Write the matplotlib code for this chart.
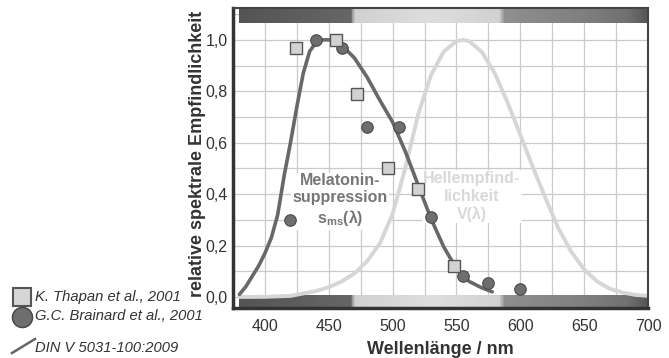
import numpy as np
import matplotlib
matplotlib.use("Agg")
import matplotlib.pyplot as plt
from matplotlib.colors import LinearSegmentedColormap
from matplotlib.lines import Line2D

plt.rcParams['font.family'] = ['Liberation Sans', 'DejaVu Sans']
plt.rcParams['mathtext.fontset'] = 'custom'
plt.rcParams['mathtext.bf'] = 'Liberation Sans:bold'
plt.rcParams['mathtext.rm'] = 'Liberation Sans'

# melatonin suppression s_ms (DIN V 5031-100)
mel_nm = [380, 385, 390, 395, 400, 405, 410, 415, 420, 425, 430, 435, 440,
          445, 450, 455, 460, 470, 480, 490, 500, 510, 520, 530, 540, 550,
          560, 570, 578]
mel_val = [0.01, 0.04, 0.08, 0.12, 0.17, 0.23, 0.32, 0.47, 0.60, 0.74, 0.87,
           0.955, 0.99, 1.0, 1.0, 0.995, 0.98, 0.93, 0.855, 0.765, 0.68,
           0.565, 0.435, 0.305, 0.195, 0.11, 0.06, 0.035, 0.02]

# photopic V(lambda)
v_nm = [380, 400, 420, 440, 450, 460, 470, 480, 490, 500, 510, 520, 530,
        540, 550, 555, 560, 570, 580, 590, 600, 610, 620, 630, 640, 650,
        660, 670, 680, 690, 700]
v_val = [0.0, 0.0004, 0.004, 0.023, 0.038, 0.06, 0.091, 0.139, 0.208, 0.323,
         0.503, 0.71, 0.862, 0.954, 0.995, 1.0, 0.995, 0.952, 0.87, 0.757,
         0.631, 0.503, 0.381, 0.265, 0.175, 0.107, 0.061, 0.032, 0.017,
         0.008, 0.004]

# K. Thapan et al., 2001
thapan_nm = [424, 456, 472, 496, 520, 548]
thapan_val = [0.97, 1.0, 0.79, 0.50, 0.42, 0.12]

# G.C. Brainard et al., 2001
brainard_nm = [420, 440, 460, 480, 505, 530, 555, 575, 600]
brainard_val = [0.30, 1.0, 0.97, 0.66, 0.66, 0.31, 0.08, 0.055, 0.03]

xticks = [400, 450, 500, 550, 600, 650, 700]
yticks = [0.0, 0.2, 0.4, 0.6, 0.8, 1.0]
ytick_labels = ['0,0', '0,2', '0,4', '0,6', '0,8', '1,0']

# grey spectrum strip
bar_nm = [380, 467, 470, 530, 584, 588, 650, 685, 700]
bar_level = [0.33, 0.40, 0.82, 0.87, 0.82, 0.56, 0.50, 0.44, 0.34]

fig = plt.figure(figsize=(6.69, 3.58), dpi=100)
ax = fig.add_axes([0.3483, 0.1397, 0.6203, 0.838])
ax.set_xlim(380, 700)
ax.set_ylim(-0.043, 1.124)

ax.set_xticks(np.arange(375, 701, 25), minor=True)
ax.set_yticks(np.arange(0, 1.11, 0.1), minor=True)
ax.grid(True, which='both', color='#cacaca', lw=0.9)
ax.set_axisbelow(True)

pos = [(n - 380) / 320 for n in bar_nm]
cmap = LinearSegmentedColormap.from_list(
    'strip', [(p, (l, l, l)) for p, l in zip(pos, bar_level)])
grad = np.linspace(0, 1, 400)[None, :]
ax.imshow(grad, cmap=cmap, aspect='auto', extent=(380, 700, 1.066, 1.124),
          zorder=1, interpolation='bilinear')
ax.imshow(grad, cmap=cmap, aspect='auto', extent=(380, 700, -0.043, 0.006),
          zorder=1, interpolation='bilinear')

ax.plot(v_nm, v_val, color='#d6d6d6', lw=2.8, zorder=2.2,
        solid_capstyle='round')
ax.plot(mel_nm, mel_val, color='#686868', lw=2.6, zorder=2.4,
        solid_capstyle='round')
ax.plot(brainard_nm, brainard_val, 'o', ms=8.3, mfc='#6e6e6e', mec='#4a4a4a',
        mew=0.8, zorder=3)
ax.plot(thapan_nm, thapan_val, 's', ms=8, mfc='#d2d2d2', mec='#555555',
        mew=1.0, zorder=3.1)

ax.text(459, 0.375, 'Melatonin-\nsuppression\n' + r's$_{\mathbf{ms}}$(λ)',
        ha='center', va='center', fontsize=11.5, fontweight='bold',
        color='#767676', linespacing=1.2, zorder=1.8,
        bbox=dict(fc='white', ec='none', pad=1))
ax.text(562, 0.39, 'Hellempfind-\nlichkeit\nV(λ)',
        ha='center', va='center', fontsize=11.5, fontweight='bold',
        color='#d8d8d8', linespacing=1.2, zorder=1.8,
        bbox=dict(fc='white', ec='none', pad=1))

ax.set_xticks(xticks)
ax.set_yticks(yticks, labels=ytick_labels)
ax.tick_params(which='both', length=0, labelsize=11.5, colors='#333333')
ax.tick_params(axis='x', pad=8)
ax.tick_params(axis='y', pad=4)

ax.set_xlabel('Wellenlänge / nm', fontsize=13, fontweight='bold',
              color='#333333', labelpad=5)
ax.set_ylabel('relative spektrale Empfindlichkeit', fontsize=13,
              fontweight='bold', color='#333333')
ax.yaxis.set_label_coords(-0.064, 0.513)

for side in ['left', 'bottom']:
    ax.spines[side].set_linewidth(2.5)
    ax.spines[side].set_color('#333333')
for side in ['top', 'right']:
    ax.spines[side].set_linewidth(1.5)
    ax.spines[side].set_color('#444444')

# legend in the lower left corner
W, H = 669, 358
def fx(px):
    return px / W
def fy(py):
    return 1 - py / H

fig.add_artist(Line2D([fx(22)], [fy(297)], marker='s', ms=13, mfc='#d6d6d6',
                      mec='#555555', mew=1.5, transform=fig.transFigure))
fig.add_artist(Line2D([fx(22)], [fy(317)], marker='o', ms=14.5, mfc='#6e6e6e',
                      mec='#444444', mew=1.0, transform=fig.transFigure))
fig.add_artist(Line2D([fx(12), fx(35)], [fy(353), fy(339)], color='#666666',
                      lw=1.8, transform=fig.transFigure))
leg_txt = ['K. Thapan et al., 2001', 'G.C. Brainard et al., 2001',
           'DIN V 5031-100:2009']
for t, py in zip(leg_txt, [297, 316, 348]):
    fig.text(fx(35), fy(py), t, fontsize=10.6, style='italic',
             color='#333333', va='center', ha='left')

fig.savefig('out.png', dpi=100)
